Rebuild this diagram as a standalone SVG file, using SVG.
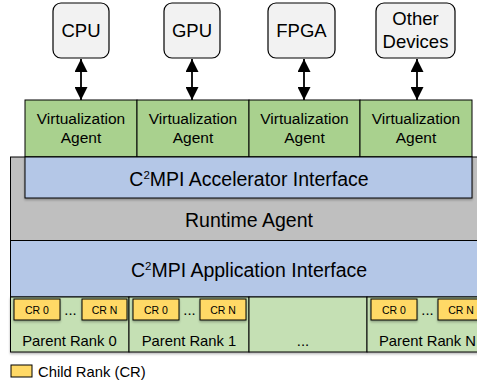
<svg xmlns="http://www.w3.org/2000/svg" width="477" height="383" viewBox="0 0 477 383">
<style>
text{font-family:"Liberation Sans",Arial,sans-serif;fill:#000;text-anchor:middle}
.dev{fill:#f2f2f2;stroke:#000;stroke-width:1.2}
.va{fill:#a9d18e;stroke:#000;stroke-width:1}
.blue{fill:#b4c7e7;stroke:#000;stroke-width:1}
.gray{fill:#bfbfbf;stroke:#000;stroke-width:1}
.pr{fill:#c5e0b4;stroke:#000;stroke-width:1}
.cr{fill:#ffd966;stroke:#000;stroke-width:1}
.conn{stroke:#000;stroke-width:1.8;fill:none;marker-start:url(#ah);marker-end:url(#ah)}
.t17{font-size:18.5px}.t15{font-size:15.5px}.t18{font-size:19.5px}.t14{font-size:14.8px}.t10{font-size:10.5px}
</style>
<defs>
<marker id="ah" viewBox="0 0 10 10" refX="10" refY="5" markerWidth="13" markerHeight="13" markerUnits="userSpaceOnUse" orient="auto-start-reverse">
<path d="M0,0 L10,5 L0,10 z" fill="#000"/>
</marker>
<filter id="sh" x="-10%" y="-10%" width="130%" height="140%"><feDropShadow dx="0" dy="1.5" stdDeviation="1.2" flood-color="#000" flood-opacity="0.3"/></filter>
</defs>
<rect width="477" height="383" fill="#fff"/>
<g id="cpu"><rect class="dev" x="53" y="3" width="56" height="55" rx="8"/><text class="t17" x="81" y="37">CPU</text></g>
<g id="gpu"><rect class="dev" x="164" y="3" width="56" height="55" rx="8"/><text class="t17" x="192" y="37">GPU</text></g>
<g id="fpga"><rect class="dev" x="268" y="3" width="67" height="55" rx="8"/><text class="t17" x="301.5" y="37">FPGA</text></g>
<g id="other"><rect class="dev" x="376" y="3" width="79" height="55" rx="8"/><text class="t17" x="415.5" y="25">Other</text><text class="t17" x="415.5" y="48">Devices</text></g>
<g id="connectors">
<line class="conn" x1="81" y1="59" x2="81" y2="100"/>
<line class="conn" x1="192" y1="59" x2="192" y2="100"/>
<line class="conn" x1="304" y1="59" x2="304" y2="100"/>
<line class="conn" x1="417" y1="59" x2="417" y2="100"/>
</g>
<g id="va1"><rect class="va" x="25" y="100" width="112" height="57"/><text class="t15" x="81" y="124">Virtualization</text><text class="t15" x="81" y="143">Agent</text></g>
<g id="va2"><rect class="va" x="137" y="100" width="112" height="57"/><text class="t15" x="193" y="124">Virtualization</text><text class="t15" x="193" y="143">Agent</text></g>
<g id="va3"><rect class="va" x="249" y="100" width="111" height="57"/><text class="t15" x="304.5" y="124">Virtualization</text><text class="t15" x="304.5" y="143">Agent</text></g>
<g id="va4"><rect class="va" x="360" y="100" width="112" height="57"/><text class="t15" x="416" y="124">Virtualization</text><text class="t15" x="416" y="143">Agent</text></g>
<g id="runtime"><rect class="gray" x="10.5" y="157" width="470" height="83.5"/><text class="t18" x="249" y="227">Runtime Agent</text></g>
<g id="accel"><rect class="blue" x="25" y="157" width="447" height="41" filter="url(#sh)"/><text class="t18" x="249" y="186">C<tspan font-size="11.5" dy="-7.5">2</tspan><tspan dy="7.5">MPI Accelerator Interface</tspan></text></g>
<g id="app"><rect class="blue" x="10.5" y="240.5" width="470" height="56.5"/><text class="t18" x="249" y="277">C<tspan font-size="11.5" dy="-7.5">2</tspan><tspan dy="7.5">MPI Application Interface</tspan></text></g>
<g id="ranks" filter="url(#sh)">
<rect class="pr" x="10.5" y="297" width="118.5" height="55"/>
<rect class="pr" x="129" y="297" width="120" height="55"/>
<rect class="pr" x="249" y="297" width="118" height="55"/>
<rect class="pr" x="367" y="297" width="114" height="55"/>
</g>
<g id="pr0">
<rect class="cr" x="14" y="299" width="46" height="21" filter="url(#sh)"/><text class="t10" x="37" y="313.5">CR 0</text>
<text class="t14" x="70.5" y="315">...</text>
<rect class="cr" x="82" y="299" width="45" height="21" filter="url(#sh)"/><text class="t10" x="104.5" y="313.5">CR N</text>
<text class="t14" x="69.5" y="346">Parent Rank 0</text>
</g>
<g id="pr1">
<rect class="cr" x="133" y="299" width="46" height="21" filter="url(#sh)"/><text class="t10" x="156" y="313.5">CR 0</text>
<text class="t14" x="189.5" y="315">...</text>
<rect class="cr" x="200" y="299" width="46" height="21" filter="url(#sh)"/><text class="t10" x="223" y="313.5">CR N</text>
<text class="t14" x="189" y="346">Parent Rank 1</text>
</g>
<g id="prmid"><text class="t14" x="303" y="346">...</text></g>
<g id="prN">
<rect class="cr" x="371" y="299" width="46" height="21" filter="url(#sh)"/><text class="t10" x="394" y="313.5">CR 0</text>
<text class="t14" x="427.5" y="315">...</text>
<rect class="cr" x="438" y="299" width="46" height="21" filter="url(#sh)"/><text class="t10" x="461" y="313.5">CR N</text>
<text class="t14" x="379" y="346" style="text-anchor:start">Parent Rank N</text>
</g>
<g id="legend">
<rect class="cr" x="11" y="365" width="21" height="12"/>
<text class="t14" x="38" y="377" style="text-anchor:start">Child Rank (CR)</text>
</g>
</svg>
